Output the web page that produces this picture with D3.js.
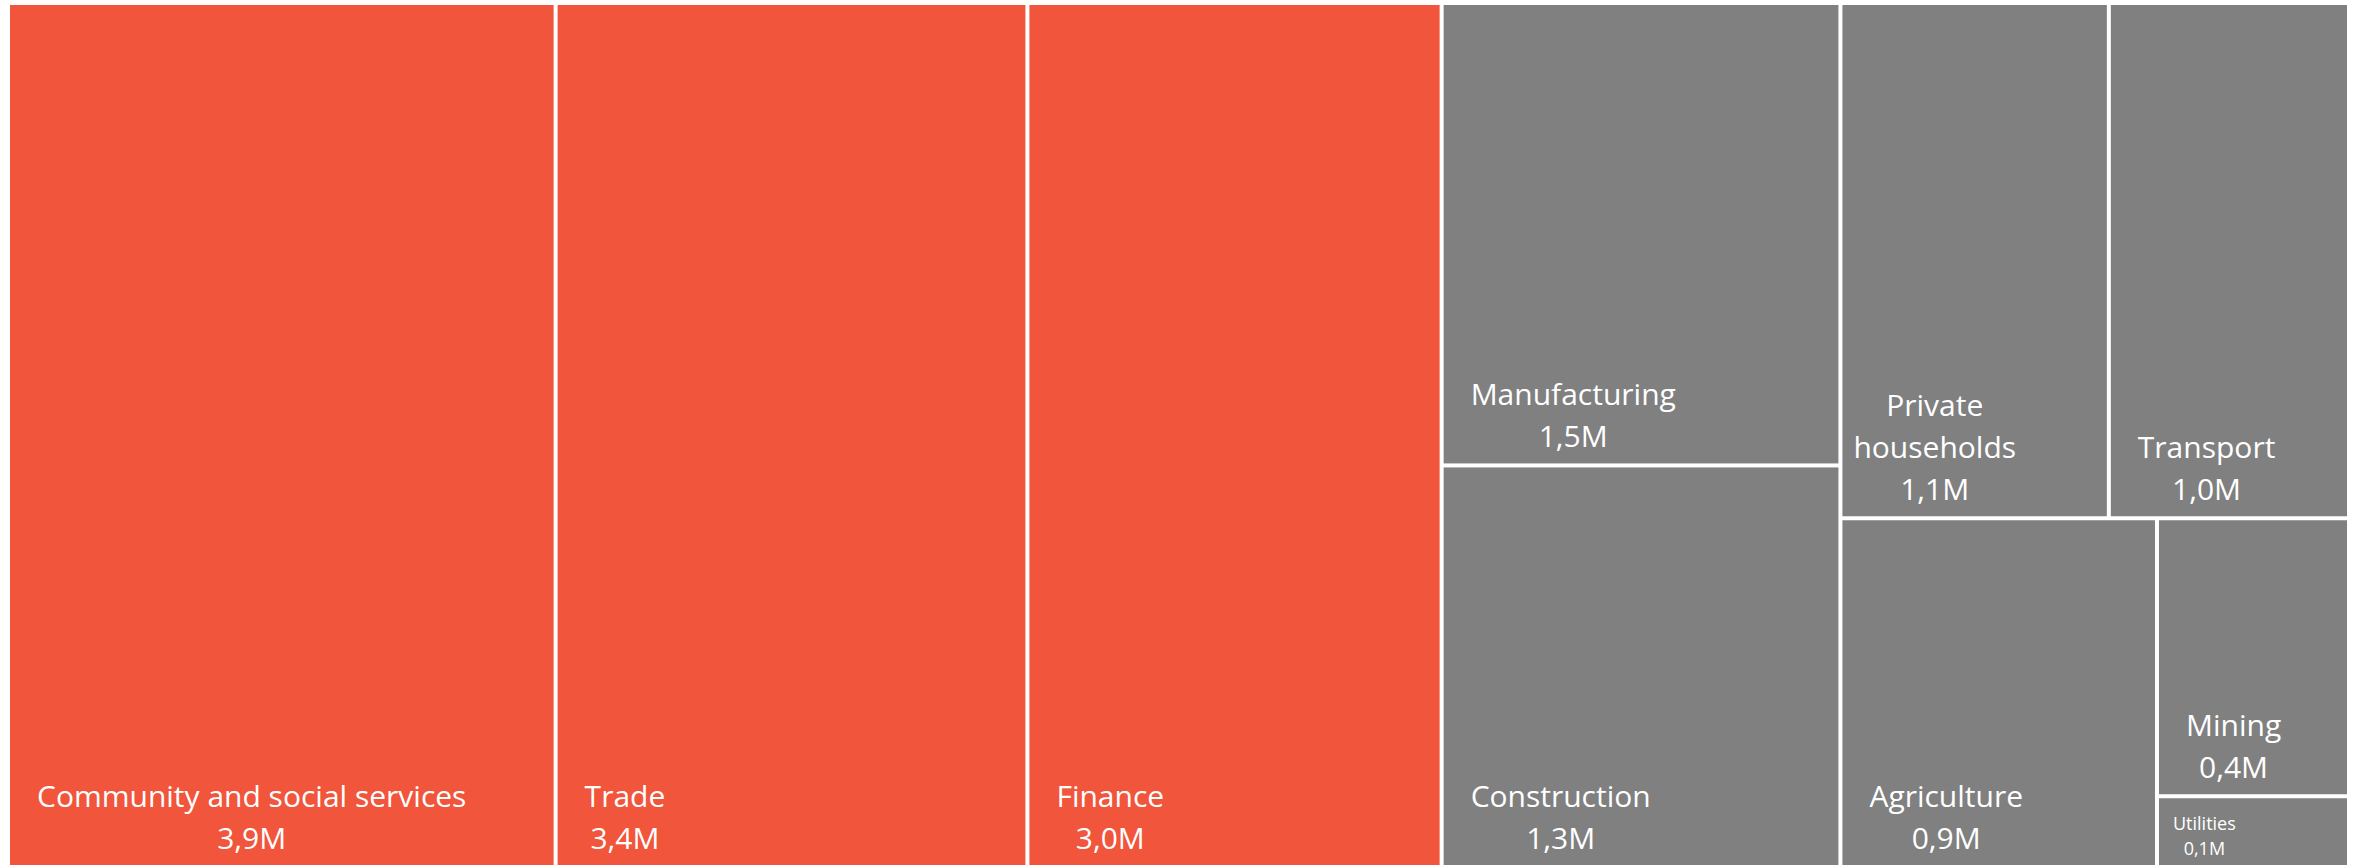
<!DOCTYPE html>
<html>
<head>
<meta charset="utf-8">
<script src="https://cdn.jsdelivr.net/npm/d3@7/dist/d3.min.js"></script>
<style>
  html, body { margin: 0; padding: 0; background: #ffffff; }
  svg { display: block; }
</style>
</head>
<body>
<svg id="chart" width="2357" height="865"></svg>
<script>
// ---- data ----
const categories = [
  "Community and social services", "Trade", "Finance", "Manufacturing",
  "Construction", "Private households", "Transport", "Agriculture",
  "Mining", "Utilities"
];
const values = [3.9, 3.36, 2.95, 1.52, 1.32, 1.14, 1.02, 0.91, 0.44, 0.112];
const colorGroups = ["top", "top", "top", "other", "other", "other", "other", "other", "other", "other"];
// nesting of the tiles (indices into categories)
const tiling = [0, 1, 2, [3, 4], [[5, 6], [7, [8, 9]]]];

// ---- layout ----
const W = 2357, H = 865;
const margin = { left: 10, top: 5, right: 10, bottom: 0 };
const colors = { top: "#F1553B", other: "#808080" };
const fmt = v => d3.format(".1f")(v).replace(".", ",") + "M";

function build(spec) {
  if (Array.isArray(spec)) return { children: spec.map(build) };
  return { name: categories[spec], value: values[spec], group: colorGroups[spec] };
}

const root = d3.hierarchy(build(tiling)).sum(d => d.value || 0);
d3.treemap()
  .tile(d3.treemapSliceDice)
  .size([W - margin.left - margin.right, H - margin.top - margin.bottom])
  .paddingInner(4)
  .round(false)(root);

const svg = d3.select("#chart");
const g = svg.append("g").attr("transform", `translate(${margin.left},${margin.top})`);

const leaves = root.leaves();
const cell = g.selectAll("g.cell").data(leaves).join("g").attr("class", "cell");

cell.append("rect")
  .attr("x", d => d.x0).attr("y", d => d.y0)
  .attr("width", d => d.x1 - d.x0).attr("height", d => d.y1 - d.y0)
  .attr("fill", d => colors[d.data.group]);

const fontFamily = "'Open Sans', 'Noto Sans', sans-serif";

cell.each(function(d) {
  const sel = d3.select(this);
  const w = d.x1 - d.x0, h = d.y1 - d.y0;
  const sizes = [{ fs: 30, lh: 42, pad: 27, bottom: 16 }, { fs: 18, lh: 25, pad: 14, bottom: 10 }];
  let cfg = sizes[0];
  if (h < 2 * cfg.lh + cfg.bottom + 10) cfg = sizes[1];

  const text = sel.append("text")
    .attr("fill", "#ffffff")
    .attr("font-family", fontFamily)
    .attr("font-size", cfg.fs)
    .attr("text-anchor", "middle");

  const probe = text.append("tspan").text(d.data.name);
  const nameW = probe.node().getComputedTextLength();
  probe.remove();

  let lines;
  let pad = cfg.pad;
  if (nameW > w - 2 * cfg.pad) {
    lines = d.data.name.split(" ");
    pad = 11;
  } else {
    lines = [d.data.name];
  }
  lines.push(fmt(d.data.value));

  let blockW = 0;
  const spans = lines.map(l => {
    const t = text.append("tspan").text(l);
    blockW = Math.max(blockW, t.node().getComputedTextLength());
    return t;
  });
  const cx = d.x0 + pad + blockW / 2;
  const lastBase = d.y1 - cfg.bottom;
  spans.forEach((t, i) => {
    t.attr("x", cx).attr("y", lastBase - (lines.length - 1 - i) * cfg.lh);
  });
});
</script>
</body>
</html>
